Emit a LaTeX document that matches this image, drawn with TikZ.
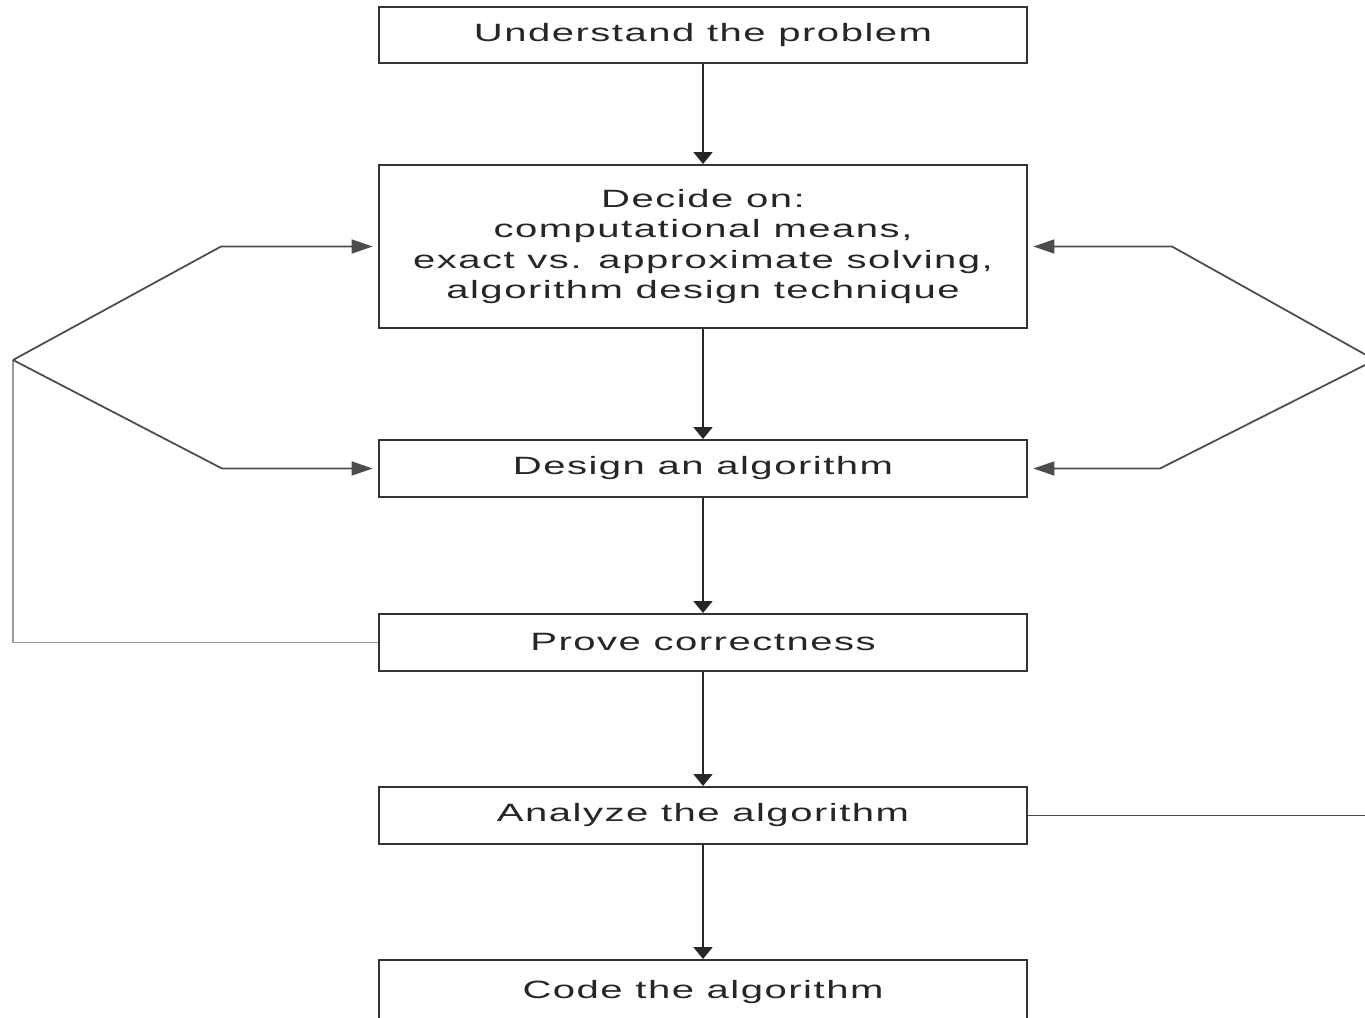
\documentclass[tikz,border=0pt]{standalone}
\usepackage{fontspec}
\setmainfont{Liberation Sans}[FakeStretch=1.6,LetterSpace=6]
\usetikzlibrary{arrows.meta}
\begin{document}
\begin{tikzpicture}[x=0.02cm, y=-0.02cm,
    stepbox/.style={draw=black!80, line width=1.1pt, minimum width=12.98cm,
        align=center, inner sep=0pt, text=black!85,
        font=\fontsize{14.25}{17.4}\selectfont},
    flow/.style={draw=black!85, line width=1.1pt, -{Triangle[length=0.24cm, width=0.38cm]}},
    back/.style={draw=black!70, line width=1pt},
    backarrow/.style={back, -{Triangle[length=0.42cm, width=0.28cm]}, shorten >=0.1cm}]
    \useasboundingbox (0, 0) rectangle (1365, 1017);
    \clip (0, 0) rectangle (1365, 1017);
    % the steps
    \node[stepbox, minimum height=1.12cm] (understand) at (703, 35) {Understand the problem};
    \node[stepbox, minimum height=3.26cm] (decide) at (703, 246.5)
        {Decide on:\\computational means,\\exact vs. approximate solving,\\algorithm design technique};
    \node[stepbox, minimum height=1.14cm] (design) at (703, 468.5) {Design an algorithm};
    \node[stepbox, minimum height=1.14cm] (prove) at (703, 642.5) {Prove correctness};
    \node[stepbox, minimum height=1.14cm] (analyze) at (703, 815.5) {Analyze the algorithm};
    \node[stepbox, minimum height=1.3cm] (code) at (703, 992.5) {Code the algorithm};
    \draw[flow] (understand) -- (decide);
    \draw[flow] (decide) -- (design);
    \draw[flow] (design) -- (prove);
    \draw[flow] (prove) -- (analyze);
    \draw[flow] (analyze) -- (code);
    % going back
    \coordinate (lj) at (13, 360);
    \coordinate (rj) at (1375, 360);
    \draw[back, draw=black!40] (prove.west) -| (lj);
    \draw[backarrow] (lj) -- (221, 246.5) -- (decide.west);
    \draw[backarrow] (lj) -- (222, 468.5) -- (design.west);
    \draw[back] (analyze.east) -| (rj);
    \draw[backarrow] (rj) -- (1172, 246.5) -- (decide.east);
    \draw[backarrow] (rj) -- (1160, 468.5) -- (design.east);
\end{tikzpicture}
\end{document}
